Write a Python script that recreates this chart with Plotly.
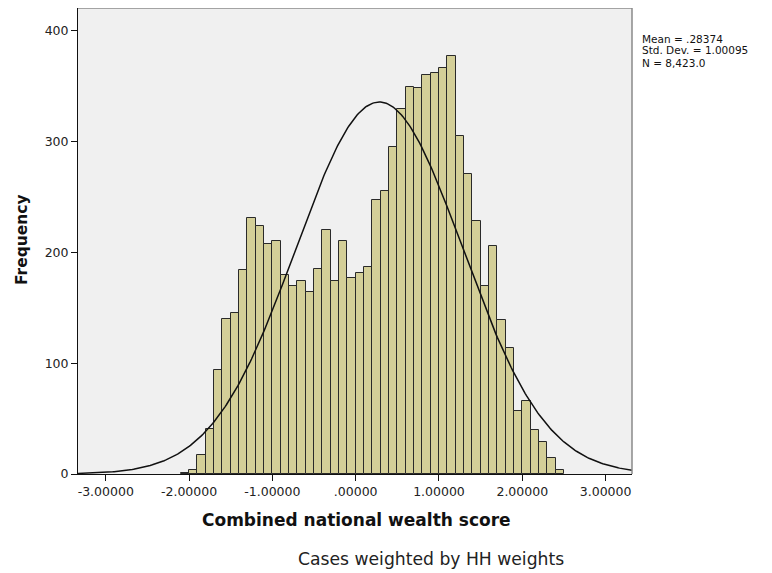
import numpy as np
import plotly.graph_objects as go

# Histogram bins (left edges) and weighted frequencies
bin_left = [-2.1, -2.0, -1.9, -1.8, -1.7, -1.6, -1.5, -1.4, -1.3, -1.2, -1.1,
            -1.0, -0.9, -0.8, -0.7, -0.6, -0.5, -0.4, -0.3, -0.2, -0.1,
            0.0, 0.1, 0.2, 0.3, 0.4, 0.5, 0.6, 0.7, 0.8, 0.9,
            1.0, 1.1, 1.2, 1.3, 1.4, 1.5, 1.6, 1.7, 1.8, 1.9,
            2.0, 2.1, 2.2, 2.3, 2.4]
freq = [1, 4, 17, 41, 94, 140, 145, 184, 231, 224, 208,
        210, 180, 170, 174, 164, 185, 220, 174, 210, 177,
        181, 187, 247, 255, 295, 329, 349, 348, 360, 362,
        366, 377, 305, 271, 228, 170, 206, 139, 114, 57,
        66, 40, 29, 14, 4]
bin_width = 0.1

# Summary statistics shown on the chart
mean_val = 0.28374
std_val = 1.00095
n_val = 8423.0
stats_lines = ["Mean = .28374", "Std. Dev. = 1.00095", "N = 8,423.0"]

x_tickvals = [-3, -2, -1, 0, 1, 2, 3]
x_ticktext = ["-3.00000", "-2.00000", "-1.00000", ".00000", "1.00000", "2.00000", "3.00000"]
y_tickvals = [0, 100, 200, 300, 400]

x_range = [-3.333, 3.317]
y_range = [0, 420.6]

centers = [b + bin_width / 2 for b in bin_left]

# Fitted normal curve from the displayed statistics
xc = np.linspace(x_range[0], x_range[1], 400)
yc = n_val * bin_width / (std_val * np.sqrt(2 * np.pi)) * np.exp(-0.5 * ((xc - mean_val) / std_val) ** 2)

fig = go.Figure()
fig.add_trace(go.Bar(
    x=centers, y=freq, width=bin_width,
    marker=dict(color="#d4cf98", line=dict(color="#2a2a2a", width=1)),
    showlegend=False, hoverinfo="skip"))
fig.add_trace(go.Scatter(
    x=xc, y=yc, mode="lines", line=dict(color="#111111", width=1.5),
    showlegend=False, hoverinfo="skip"))

font_family = "DejaVu Sans, Arial, sans-serif"

annotations = [
    dict(text="<b>Combined national wealth score</b>", xref="paper", yref="paper",
         x=0.502, y=-0.099, yanchor="middle", xanchor="center", showarrow=False,
         font=dict(size=17, color="#111")),
    dict(text="<b>Frequency</b>", xref="paper", yref="paper",
         x=-0.101, y=0.502, textangle=-90, showarrow=False, xanchor="center", yanchor="middle",
         font=dict(size=15.5, color="#111")),
    dict(text="Cases weighted by HH weights", xref="paper", yref="paper",
         x=0.638, y=-0.1824, showarrow=False, xanchor="center", yanchor="middle",
         font=dict(size=17.2, color="#222")),
]
for line, yy in zip(stats_lines, [0.9345, 0.9088, 0.8830]):
    annotations.append(dict(text=line, xref="paper", yref="paper", x=1.0162, y=yy,
                            showarrow=False, xanchor="left", yanchor="middle",
                            borderpad=0,
                            font=dict(size=10.5, color="#111")))

fig.update_layout(
    width=772, height=573,
    margin=dict(l=70, r=148, t=0, b=107),
    paper_bgcolor="white", plot_bgcolor="#f0f0f0",
    font=dict(family=font_family, size=12.5, color="#222"),
    bargap=0,
    xaxis=dict(range=x_range, tickvals=x_tickvals, ticktext=x_ticktext,
               showgrid=False, zeroline=False, showline=True, linecolor="#111",
               linewidth=1, ticks="outside", ticklen=6, tickcolor="#111",
               tickfont=dict(size=12.5, color="#222")),
    yaxis=dict(range=y_range, tickvals=y_tickvals,
               showgrid=False, zeroline=False, showline=True, linecolor="#111",
               linewidth=1, ticks="outside", ticklen=6, tickcolor="#111",
               tickfont=dict(size=12.5, color="#222")),
    shapes=[
        dict(type="line", xref="paper", yref="paper", x0=0, x1=1, y0=1, y1=1,
             line=dict(color="#8a8a8a", width=1.5)),
        dict(type="line", xref="paper", yref="paper", x0=1, x1=1, y0=0, y1=1,
             line=dict(color="#8a8a8a", width=1.5)),
    ],
    annotations=annotations,
)

fig.write_html("out.html")
